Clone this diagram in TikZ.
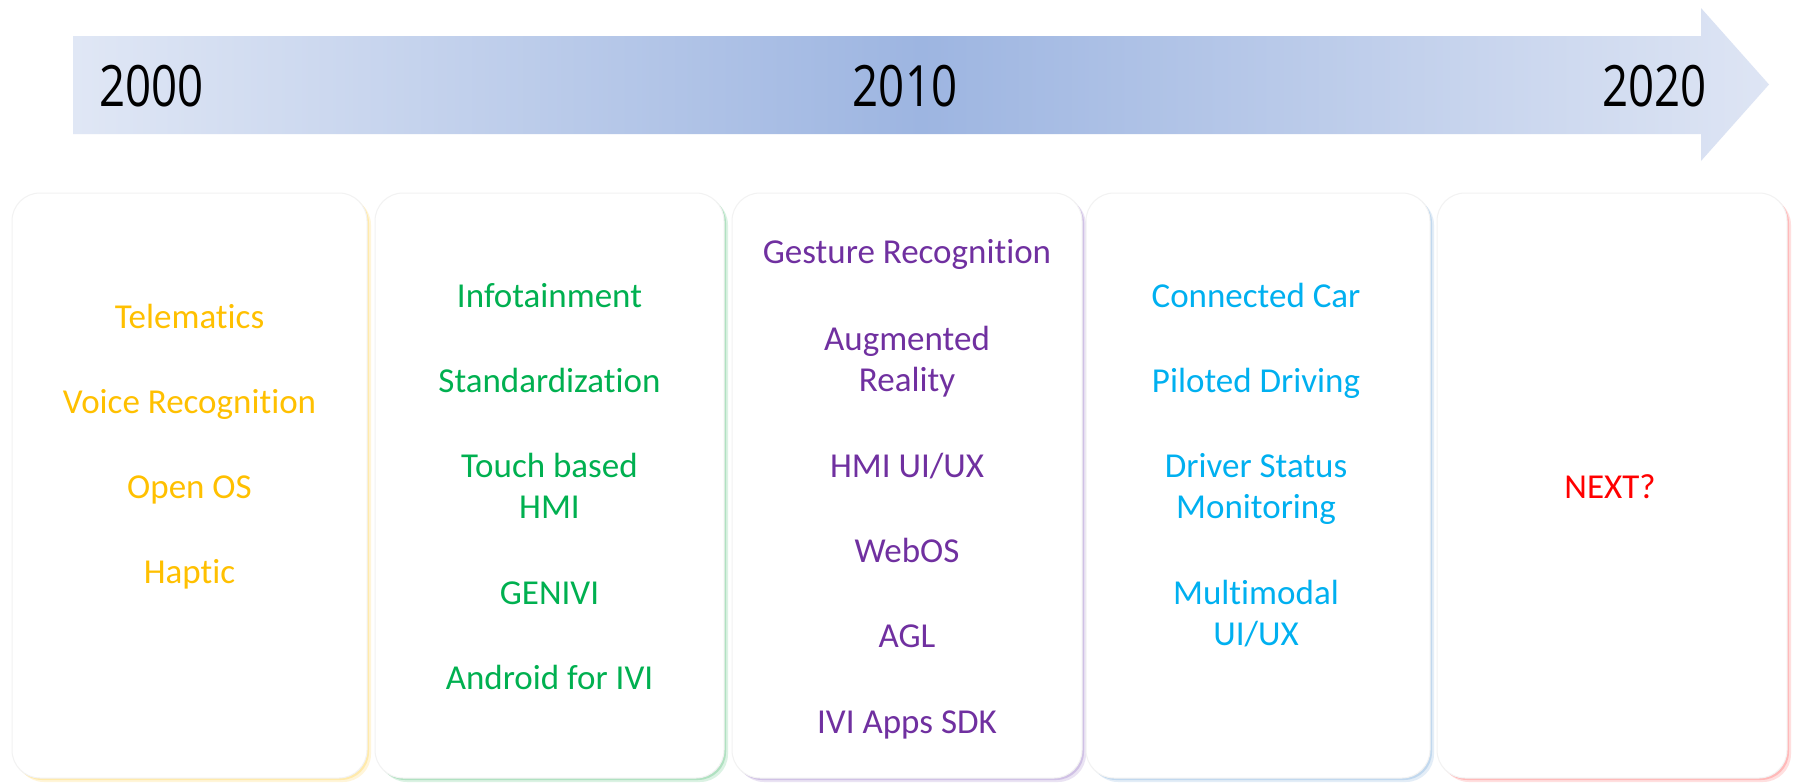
\documentclass[tikz,border=0pt]{standalone}
\usepackage{fontspec}
\setmainfont[Ligatures=NoCommon]{Carlito}
\newfontfamily\yearfam{Open Sans}
\definecolor{arrL}{HTML}{E0E7F5}
\definecolor{arrM}{HTML}{9DB5E1}
\definecolor{arrR}{HTML}{DEE5F4}
\definecolor{cYel}{HTML}{FFC000}
\definecolor{cGrn}{HTML}{00B050}
\definecolor{cPur}{HTML}{7030A0}
\definecolor{cBlu}{HTML}{00B0F0}
\definecolor{cRed}{HTML}{FF0000}
\definecolor{gYel}{HTML}{FFD966}
\definecolor{gGrn}{HTML}{70C98F}
\definecolor{gPur}{HTML}{A98ED0}
\definecolor{gBlu}{HTML}{8FB8E0}
\definecolor{gRed}{HTML}{FF8080}
\tikzset{
  card/.style={rectangle, rounded corners=28pt, fill=white, draw=black!5, line width=1pt,
    minimum height=585pt, inner sep=0pt,
    preaction={fill=#1!25, transform canvas={shift={(4pt,-4pt)}}},
    preaction={fill=#1!55, transform canvas={shift={(2pt,-2pt)}}}},
  item/.style={anchor=base, align=center, inner sep=0pt, font=\fontsize{35}{41}\selectfont, text=#1},
  year/.style={inner sep=0pt, font=\yearfam\fontsize{57}{64}\selectfont, text=black}
}
\begin{document}
\begin{tikzpicture}[x=1pt,y=-1pt]
\useasboundingbox[fill=white] (0,0) rectangle (1796,782);
% timeline arrow
\shade[left color=arrL, right color=arrR, middle color=arrM]
  (73,36) -- (1701,36) -- (1701,8) -- (1769,84.5) -- (1701,161) -- (1701,134) -- (73,134) -- cycle;
\node[year, anchor=base west] (y2000) at (99,106) {\scalebox{0.8}[1]{2000}};
\node[year, anchor=base] (y2010) at (905,106) {\scalebox{0.8}[1]{2010}};
\node[year, anchor=base east] (y2020) at (1707,106) {\scalebox{0.8}[1]{2020}};
% cards
\node[card=gYel, minimum width=355pt] (b1) at (189.5,485.5) {};
\node[card=gGrn, minimum width=349pt] (b2) at (549.5,485.5) {};
\node[card=gPur, minimum width=350pt] (b3) at (907,485.5) {};
\node[card=gBlu, minimum width=344pt] (b4) at (1258,485.5) {};
\node[card=gRed, minimum width=350pt] (b5) at (1612,485.5) {};
% box 1
\node[item=cYel] (t11) at (189.5,328) {Telematics};
\node[item=cYel] (t12) at (189.5,413) {Voice Recognition};
\node[item=cYel] (t13) at (189.5,498) {Open OS};
\node[item=cYel] (t14) at (189.5,583) {Haptic};
% box 2
\node[item=cGrn] (t21) at (549.5,307) {Infotainment};
\node[item=cGrn] (t22) at (549.5,392) {Standardization};
\node[item=cGrn] (t23) at (549.5,518) {Touch based\\HMI};
\node[item=cGrn] (t24) at (549.5,604) {GENIVI};
\node[item=cGrn] (t25) at (549.5,689.5) {Android for IVI};
% box 3
\node[item=cPur] (t31) at (907,263.5) {Gesture Recognition};
\node[item=cPur] (t32) at (907,391.5) {Augmented\\Reality};
\node[item=cPur] (t33) at (907,477) {HMI UI/UX};
\node[item=cPur] (t34) at (907,562.5) {WebOS};
\node[item=cPur] (t35) at (907,647.5) {AGL};
\node[item=cPur] (t36) at (907,733.5) {IVI Apps SDK};
% box 4
\node[item=cBlu] (t41) at (1256,307) {Connected Car};
\node[item=cBlu] (t42) at (1256,392) {Piloted Driving};
\node[item=cBlu] (t43) at (1256,518) {Driver Status\\Monitoring};
\node[item=cBlu] (t44) at (1256,645.5) {Multimodal\\UI/UX};
% box 5
\node[item=cRed] (t51) at (1610,498.5) {NEXT?};
\end{tikzpicture}
\end{document}
